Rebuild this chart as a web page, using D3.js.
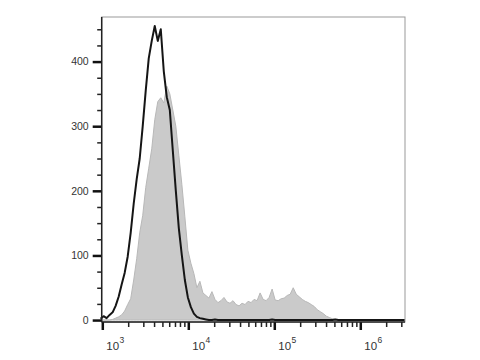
<!DOCTYPE html>
<html>
<head>
<meta charset="utf-8">
<script src="https://cdn.jsdelivr.net/npm/d3@7"></script>
<style>
  html, body { margin: 0; padding: 0; background: #fff; }
  svg { display: block; font-family: Arial, "Liberation Sans", sans-serif; }
</style>
</head>
<body>
<div id="chart"></div>
<script>
// histogram bins: centres in log10 fluorescence, fixed width
const binStart = 2.98;
const binStep = 0.035;

// shaded (filled gray) histogram counts, one per bin
const shadedCounts = [
  0, 0, 0, 0, 1, 3, 5, 8, 14, 24,
  33, 62, 95, 135, 162, 205, 235, 265, 310, 338,
  344, 336, 362, 350, 325, 300, 255, 210, 160, 108,
  88, 72, 50, 60, 42, 38, 34, 44, 32, 27,
  30, 35, 28, 26, 30, 24, 22, 26, 24, 29,
  27, 32, 30, 42, 32, 30, 35, 48, 31, 30,
  33, 34, 38, 40, 50, 40, 36, 32, 29, 27,
  24, 21, 16, 13, 10, 6, 4, 2, 1, 0,
  0, 0, 0, 0, 0, 0, 0, 0, 0, 0,
  0, 0, 0, 0, 0, 0, 0, 0, 0, 0,
  0, 0
];

// black outline histogram counts, one per bin
const lineCounts = [
  2, 6, 3, 8, 12, 22, 36, 55, 73, 98,
  135, 180, 218, 250, 300, 355, 405, 432, 455, 432,
  450, 385, 345, 325, 262, 200, 142, 100, 62, 35,
  20, 10, 5, 3, 2, 1, 0, 0, 1, 0,
  0, 0, 0, 0, 0, 0, 0, 0, 0, 0,
  0, 0, 0, 0, 0, 0, 0, 1, 0, 0,
  0, 0, 0, 0, 0, 0, 0, 0, 0, 0,
  0, 0, 0, 0, 0, 0, 0, 0, 1, 0,
  0, 0, 0, 0, 0, 0, 0, 0, 0, 0,
  0, 0, 0, 0, 0, 0, 0, 0, 0, 0,
  0, 0
];

const yMajorTicks = [0, 100, 200, 300, 400];
const yMinorTicks = [25, 50, 75, 125, 150, 175, 225, 250, 275, 325, 350, 375, 425, 450];
const xDecades = [3, 4, 5, 6];

const W = 480, H = 360;
const plot = { left: 101.7, right: 405, top: 17, bottom: 322 };

const svg = d3.select('#chart').append('svg').attr('width', W).attr('height', H);

const x = d3.scaleLog().domain([Math.pow(10, 2.993), Math.pow(10, 6.52)]).range([plot.left, plot.right]);
const y = d3.scaleLinear().domain([-3, 469]).range([plot.bottom, plot.top]);

const binX = i => Math.pow(10, binStart + i * binStep);

// frame (top + right are light)
svg.append('rect')
  .attr('x', plot.left).attr('y', plot.top)
  .attr('width', plot.right - plot.left).attr('height', plot.bottom - plot.top)
  .attr('fill', 'none').attr('stroke', '#999').attr('stroke-width', 1);

// filled histogram
const area = d3.area()
  .x((d, i) => x(binX(i)))
  .y0(y(0))
  .y1(d => y(d));

svg.append('path')
  .datum(shadedCounts)
  .attr('d', area)
  .attr('fill', '#cacaca')
  .attr('stroke', '#b8b8b8')
  .attr('stroke-width', 1);

// outline histogram
const line = d3.line()
  .x((d, i) => x(binX(i)))
  .y(d => y(d));

svg.append('path')
  .datum(lineCounts)
  .attr('d', line)
  .attr('fill', 'none')
  .attr('stroke', '#151515')
  .attr('stroke-width', 2)
  .attr('stroke-linejoin', 'round');

// y axis
const yMajor = svg.append('g')
  .attr('transform', `translate(${plot.left},0)`)
  .call(d3.axisLeft(y).tickValues(yMajorTicks).tickSize(9).tickPadding(4).tickSizeOuter(0));
yMajor.select('.domain').remove();
yMajor.selectAll('line').attr('stroke', '#111').attr('stroke-width', 2.5);
yMajor.selectAll('text').attr('font-size', '10.5px').attr('fill', '#333')
  .attr('font-family', 'Arial, "Liberation Sans", sans-serif');

const yMinor = svg.append('g')
  .attr('transform', `translate(${plot.left},0)`)
  .call(d3.axisLeft(y).tickValues(yMinorTicks).tickSize(4.5).tickFormat(''));
yMinor.select('.domain').remove();
yMinor.selectAll('line').attr('stroke', '#222').attr('stroke-width', 1.5);

// x axis
const xMinorVals = x.ticks().filter(v => Math.abs(Math.log10(v) % 1) > 1e-6);
const xMinor = svg.append('g')
  .attr('transform', `translate(0,${plot.bottom})`)
  .call(d3.axisBottom(x).tickValues(xMinorVals).tickSize(5).tickFormat(''));
xMinor.select('.domain').remove();
xMinor.selectAll('line').attr('stroke', '#222').attr('stroke-width', 1.5);

const xMajor = svg.append('g')
  .attr('transform', `translate(0,${plot.bottom})`)
  .call(d3.axisBottom(x).tickValues(xDecades.map(e => Math.pow(10, e))).tickSize(8).tickFormat(''));
xMajor.select('.domain').remove();
xMajor.selectAll('line').attr('stroke', '#111').attr('stroke-width', 2.5);

const xLabels = svg.append('g').selectAll('text')
  .data(xDecades)
  .join('text')
  .attr('x', e => x(Math.pow(10, e)) + 4)
  .attr('y', 350)
  .attr('font-size', '11.5px')
  .attr('fill', '#333');
xLabels.append('tspan').text('10');
xLabels.append('tspan').attr('font-size', '8.5px').attr('dy', -7).attr('dx', 0.5).text(e => e);

// axis lines
svg.append('line')
  .attr('x1', plot.left).attr('x2', plot.left)
  .attr('y1', plot.top).attr('y2', plot.bottom)
  .attr('stroke', '#222').attr('stroke-width', 1.5);
svg.append('line')
  .attr('x1', plot.left).attr('x2', plot.right)
  .attr('y1', plot.bottom).attr('y2', plot.bottom)
  .attr('stroke', '#222').attr('stroke-width', 1.5);
</script>
</body>
</html>
